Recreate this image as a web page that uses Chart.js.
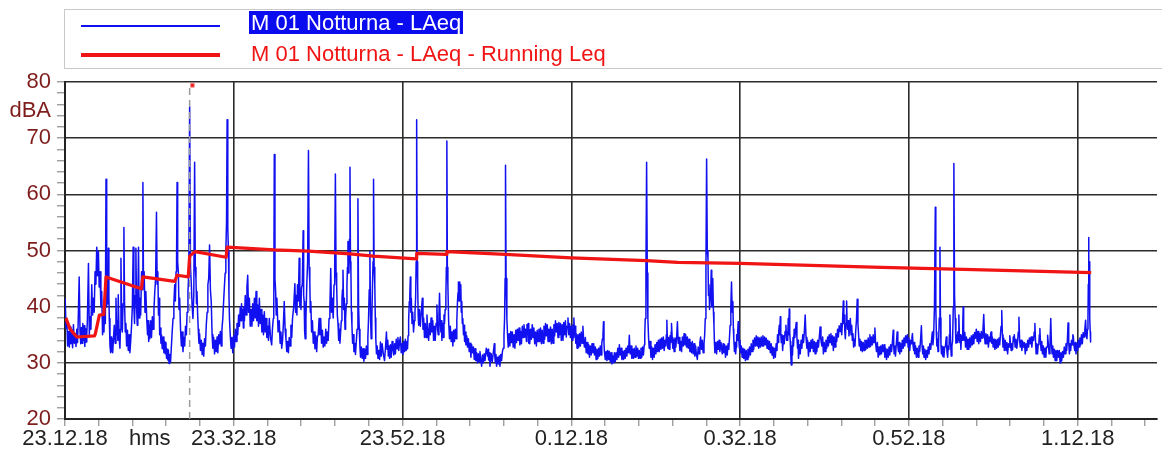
<!DOCTYPE html>
<html>
<head>
<meta charset="utf-8">
<script src="https://cdn.jsdelivr.net/npm/chart.js@4/dist/chart.umd.min.js"></script>
<style>
body{margin:0;background:#fff;font-family:"Liberation Sans",Arial,sans-serif;}
#wrap{position:relative;width:1162px;height:457px;overflow:hidden;}
#legend{position:absolute;left:64px;top:9px;width:1110px;height:60px;border:1px solid #c9c9c9;box-sizing:border-box;}
.swatch{position:absolute;left:16px;width:139px;}
.txt{position:absolute;left:184px;font-size:22px;white-space:nowrap;line-height:23px;padding:0 2px;}
</style>
</head>
<body>
<div id="wrap">
<canvas id="grafico" width="1162" height="457"></canvas>
<div id="legend"></div>
</div>
<script>
// x = minutes since 23.12.18, y = dBA
var tickMinutes = [0, 20, 40, 60, 80, 100, 120];
var tickLabels = ['23.12.18', '23.32.18', '23.52.18', '0.12.18', '0.32.18', '0.52.18', '1.12.18'];
var hmsMinute = 10.05;
var dbaValue = 74.8;
var cursorMinute = 14.77;
var markerPoint = [15.1, 79.4];

var seriesNames = ['M 01 Notturna - LAeq', 'M 01 Notturna - LAeq - Running Leq'];

var laeqSeries = [
[0.02,41.5],[0.12,36.2],[0.22,37.9],[0.31,33.0],[0.41,35.6],[0.51,32.8],[0.61,36.4],[0.7,33.4],[0.8,35.9],[0.9,32.7],[1.0,36.8],[1.1,33.5],[1.2,35.2],[1.3,32.9],[1.4,36.0],[1.48,33.6],[1.55,36.5],[1.68,45.3],[1.78,35.5],[1.87,33.4],[1.95,36.3],[2.03,33.5],[2.11,37.0],[2.19,34.0],[2.27,36.6],[2.35,32.9],[2.43,36.1],[2.5,33.7],[2.58,35.0],[2.65,37.5],[2.78,47.7],[2.88,35.0],[2.97,38.2],[3.07,36.0],[3.17,43.9],[3.27,38.5],[3.37,41.5],[3.46,39.0],[3.56,46.2],[3.66,44.0],[3.76,50.6],[3.86,45.5],[3.96,49.8],[4.05,43.5],[4.15,46.2],[4.25,40.0],[4.35,42.7],[4.45,35.0],[4.55,38.2],[4.62,35.5],[4.7,40.9],[4.78,37.0],[4.86,62.7],[4.94,40.0],[5.02,46.2],[5.08,40.5],[5.14,50.4],[5.2,42.0],[5.25,37.9],[5.33,33.0],[5.41,31.8],[5.47,34.6],[5.53,32.0],[5.59,34.2],[5.65,31.8],[5.75,34.5],[5.84,36.7],[5.94,33.5],[6.04,41.5],[6.12,35.0],[6.2,37.5],[6.26,34.0],[6.31,42.1],[6.41,34.5],[6.51,32.6],[6.57,36.0],[6.63,48.6],[6.71,38.5],[6.79,35.5],[6.88,40.5],[6.98,54.1],[7.06,40.5],[7.14,35.5],[7.22,37.0],[7.3,33.0],[7.4,35.8],[7.5,32.2],[7.6,35.0],[7.69,31.8],[7.79,34.0],[7.89,36.7],[7.98,40.0],[8.08,50.6],[8.16,40.0],[8.24,37.0],[8.32,42.0],[8.4,50.4],[8.48,40.0],[8.56,36.7],[8.63,41.0],[8.71,50.6],[8.79,38.0],[8.87,41.5],[8.97,38.5],[9.07,46.2],[9.15,43.0],[9.23,62.1],[9.3,44.0],[9.38,46.2],[9.48,39.0],[9.58,42.7],[9.68,38.0],[9.78,35.0],[9.85,37.5],[9.92,33.8],[9.98,36.8],[10.05,34.3],[10.15,37.5],[10.25,34.5],[10.35,38.2],[10.44,36.0],[10.54,39.5],[10.64,42.7],[10.74,45.0],[10.84,56.8],[10.92,44.0],[11.0,46.2],[11.08,38.5],[11.15,41.5],[11.22,35.0],[11.3,36.2],[11.37,33.5],[11.43,35.0],[11.52,32.5],[11.62,34.6],[11.72,31.8],[11.82,33.8],[11.89,31.6],[11.96,33.6],[12.03,30.8],[12.1,32.4],[12.18,30.5],[12.25,32.3],[12.33,29.9],[12.41,31.5],[12.51,30.2],[12.61,33.0],[12.7,35.5],[12.8,37.9],[12.9,40.5],[13.0,43.9],[13.08,41.0],[13.16,46.2],[13.22,48.0],[13.28,62.1],[13.35,48.0],[13.43,46.2],[13.51,39.5],[13.59,41.5],[13.69,36.0],[13.79,33.0],[13.88,35.5],[13.98,32.0],[14.08,34.5],[14.18,33.0],[14.28,36.5],[14.38,35.0],[14.47,39.0],[14.57,42.7],[14.67,46.0],[14.77,75.6],[14.87,47.0],[14.97,43.9],[15.07,40.0],[15.16,37.9],[15.26,42.0],[15.36,65.7],[15.44,47.0],[15.52,45],[15.58,40.5],[15.64,42.7],[15.72,38.5],[15.79,36.0],[15.87,33.5],[15.95,35.2],[16.05,32.2],[16.15,34.0],[16.25,31.5],[16.34,33.5],[16.44,31.2],[16.54,34.3],[16.64,33.0],[16.74,36.7],[16.84,39.0],[16.93,43.9],[17.03,45.0],[17.13,51],[17.23,43.0],[17.33,40.9],[17.43,35.0],[17.52,32.6],[17.62,34.5],[17.72,31.6],[17.82,34.0],[17.92,32.0],[18.02,34.6],[18.11,31.8],[18.21,35.0],[18.31,33.4],[18.41,35.6],[18.51,33.0],[18.6,36.0],[18.7,37.9],[18.8,41.0],[18.9,43.9],[18.98,46.0],[19.06,49.8],[19.14,55.0],[19.21,73.3],[19.29,54.0],[19.37,49.8],[19.43,42.0],[19.49,37.9],[19.58,35.0],[19.68,32.6],[19.78,34.5],[19.88,31.8],[19.98,34.8],[20.08,32.8],[20.18,36.0],[20.28,33.8],[20.38,37.0],[20.47,35.0],[20.57,38.5],[20.67,36.5],[20.77,40.0],[20.86,37.5],[20.92,40.5],[20.98,38.0],[21.06,39.5],[21.14,36.2],[21.2,40.0],[21.26,37.5],[21.36,42.0],[21.46,38.5],[21.56,43.5],[21.65,45.6],[21.75,39.0],[21.85,41.5],[21.95,36.5],[22.05,39.5],[22.15,36.5],[22.24,40.5],[22.34,37.5],[22.44,41.5],[22.54,38.0],[22.64,42.7],[22.73,37.5],[22.83,40.3],[22.93,36.5],[23.03,41.5],[23.13,37.0],[23.23,39.5],[23.33,35.5],[23.42,38.5],[23.52,35.0],[23.62,39.1],[23.72,35.5],[23.82,37.9],[23.92,34.5],[24.01,36.5],
[24.11,34.0],[24.21,37.9],[24.35,34.5],[24.49,33.2],[24.58,36.0],[24.68,37.9],[24.74,40.0],[24.8,67.1],[24.88,45.0],[24.96,42.7],[25.03,38.5],[25.11,41.5],[25.25,35.5],[25.39,37.5],[25.49,33.5],[25.59,35.5],[25.68,32.6],[25.78,34.0],[25.88,37.0],[25.98,40.9],[26.08,36.0],[26.18,34.3],[26.28,32.0],[26.37,33.8],[26.47,31.8],[26.57,34.5],[26.67,33.0],[26.77,36.7],[26.87,34.5],[26.96,37.9],[27.1,40.0],[27.24,44.1],[27.32,39.0],[27.4,42.0],[27.48,38.5],[27.55,43.9],[27.65,41.0],[27.75,48.6],[27.83,40.0],[27.91,42.5],[27.96,39.5],[28.02,43.3],[28.12,44.0],[28.22,53.5],[28.28,42.0],[28.34,40.9],[28.4,35.5],[28.46,34.3],[28.55,38.0],[28.65,43.9],[28.75,48.0],[28.85,67.8],[28.93,47.0],[29.01,44.4],[29.07,39.0],[29.13,40.9],[29.22,35.5],[29.32,37.5],[29.42,33.5],[29.52,35.5],[29.62,32.5],[29.72,34.8],[29.82,32.0],[29.91,34.6],[30.01,35.0],[30.11,37.9],[30.2,35.0],[30.3,37.9],[30.4,33.5],[30.5,35.8],[30.6,32.8],[30.7,34.6],[30.8,33.0],[30.9,36.0],[31.0,33.5],[31.09,35.5],[31.19,34.0],[31.29,37.9],[31.39,40.0],[31.49,46.8],[31.58,39.0],[31.68,41.5],[31.78,38.0],[31.88,43.9],[31.96,47.0],[32.04,63.6],[32.12,46.0],[32.19,43.9],[32.27,38.5],[32.35,37.0],[32.43,34.0],[32.51,36.0],[32.58,33.5],[32.66,35.5],[32.74,37.5],[32.82,41.5],[32.88,43.0],[32.94,46.5],[33.02,39.5],[33.1,41.5],[33.18,36.0],[33.25,37.9],[33.33,40.5],[33.41,43.9],[33.47,47.0],[33.53,51.6],[33.59,46.0],[33.65,48.6],[33.71,52.0],[33.77,64.8],[33.83,48.0],[33.88,46.2],[33.94,39.0],[34.0,36.7],[34.08,33.5],[34.16,35.0],[34.24,32.0],[34.32,33.5],[34.42,31.5],[34.51,33.6],[34.61,36.0],[34.71,59.2],[34.79,40.0],[34.87,36.0],[34.95,32.8],[35.02,31.0],[35.12,32.8],[35.22,30.8],[35.32,32.5],[35.42,30.3],[35.52,32.4],[35.61,30.8],[35.71,33.0],[35.81,31.5],[35.89,34.5],[35.97,37.9],[36.05,43.0],[36.13,49.8],[36.2,38.5],[36.28,34.3],[36.36,38.0],[36.44,43.9],[36.5,48.0],[36.56,62.7],[36.63,47.0],[36.71,43.9],[36.77,38.0],[36.83,34.3],[36.91,31.6],[36.99,33.0],[37.09,30.8],[37.19,32.2],[37.28,30.6],[37.38,33.7],[37.48,31.2],[37.58,33.4],[37.72,31.6],[37.86,30.4],[37.97,32.5],[38.09,35.5],[38.17,32.4],[38.25,34.0],[38.31,31.2],[38.37,33.0],[38.47,30.8],[38.56,33.2],[38.66,31.0],[38.76,33.8],[38.86,32.5],[38.96,31.4],[39.06,33.4],[39.15,31.6],[39.25,34.2],[39.35,32.5],[39.45,34.5],[39.55,32.2],[39.65,33.8],[39.74,34.6],[39.84,31.8],[39.94,33.4],[40.04,31.5],[40.14,33.8],[40.24,32.0],[40.33,34.2],[40.43,32.2],[40.53,33.8],[40.59,32.5],[40.65,34.8],[40.72,37.5],[40.8,40.9],[40.86,42.0],[40.92,45.3],[40.98,39.0],[41.04,41.5],[41.12,37.0],[41.2,39.0],[41.3,35.5],[41.4,37.5],[41.47,39.0],[41.55,41.5],[41.61,48.0],[41.67,73.3],[41.73,48.0],[41.79,43.9],[41.85,38.5],[41.91,36.7],[42.0,39.5],[42.1,36.5],[42.22,39.0],[42.34,41.5],[42.42,36.0],[42.5,38.0],[42.6,34.5],[42.69,37.0],[42.79,34.5],[42.89,38.5],[42.99,35.5],[43.09,34.0],[43.19,37.0],[43.28,35.0],[43.38,38.0],[43.48,35.5],[43.58,37.5],[43.68,34.0],[43.78,36.5],[43.87,34.0],[43.97,37.0],[44.07,40.3],[44.15,36.0],[44.23,35.0],[44.31,38.5],[44.38,42.4],[44.46,37.5],[44.54,35.5],[44.6,37.5],[44.66,34.0],[44.76,37.0],[44.85,34.5],[44.91,38.5],[44.97,37.0],[45.05,39.5],[45.13,41.5],[45.19,47.0],[45.25,69.5],[45.31,47.0],[45.37,43.9],[45.46,37.5],[45.56,34.3],[45.66,36.5],[45.76,33.8],[45.86,35.5],[45.96,33.0],[46.06,35.8],[46.15,33.8],[46.25,36.0],[46.35,34.3],[46.43,37.5],[46.51,40.9],[46.57,42.5],[46.62,44.4],[46.7,41.0],[46.78,44.4],[46.84,41.5],[46.9,43.9],[46.96,39.0],[47.02,40.9],[47.08,37.0],[47.14,37.9],[47.22,35.0],[47.29,36.7],[47.35,33.8],[47.41,35.5],[47.51,33.2],[47.61,34.8],[47.7,32.8],
[47.8,34.3],[47.9,32.0],[48.0,33.5],[48.1,31.0],[48.19,33.2],[48.3,31.8],[48.4,32.8],[48.5,30.6],[48.59,32.5],[48.68,30.4],[48.78,31.8],[48.88,30.0],[48.98,31.6],[49.08,30.2],[49.17,32.0],[49.27,30.6],[49.37,29.4],[49.47,31.4],[49.57,30.0],[49.67,31.6],[49.77,30.4],[49.92,32.6],[50.08,31.2],[50.14,32.4],[50.2,30.5],[50.28,31.8],[50.36,29.4],[50.5,31.6],[50.63,30.2],[50.75,31.8],[50.87,33.4],[50.94,31.0],[51.0,30.0],[51.07,31.5],[51.14,29.4],[51.24,31.0],[51.34,29.8],[51.44,31.2],[51.54,29.4],[51.64,31.5],[51.73,30.4],[51.83,32.0],[51.93,32.6],[52.02,35.0],[52.09,37.9],[52.15,45.0],[52.2,65.2],[52.27,45.0],[52.36,37.9],[52.44,35.0],[52.52,32.8],[52.62,35.2],[52.72,33.0],[52.82,35.6],[52.91,33.6],[53.01,35.5],[53.11,32.8],[53.21,35.0],[53.31,32.6],[53.41,35.8],[53.5,33.6],[53.6,36.0],[53.7,34.0],[53.8,36.2],[53.9,33.2],[54.0,35.6],[54.09,33.4],[54.19,36.5],[54.29,34.5],[54.39,36.8],[54.49,34.6],[54.58,36.0],[54.68,33.8],[54.74,36.8],[54.8,35.0],[54.88,37.0],[54.96,33.5],[55.02,35.8],[55.07,33.4],[55.17,36.0],[55.27,34.2],[55.37,36.8],[55.47,34.5],[55.56,36.2],[55.66,33.4],[55.76,35.5],[55.86,33.0],[55.96,35.8],[56.06,33.8],[56.16,36.0],[56.25,33.8],[56.35,36.2],[56.45,33.4],[56.55,35.8],[56.65,33.5],[56.75,36.5],[56.84,34.2],[56.94,37.0],[57.04,34.8],[57.14,36.8],[57.24,33.8],[57.34,36.0],[57.43,33.8],[57.53,36.4],[57.63,33.4],[57.73,36.0],[57.83,33.5],[57.93,36.8],[58.02,34.8],[58.12,37.5],[58.22,35.5],[58.32,37.0],[58.42,34.5],[58.52,37.2],[58.61,35.0],[58.71,37.0],[58.81,34.0],[58.91,36.8],[59.01,34.0],[59.1,37.2],[59.2,35.0],[59.3,37.5],[59.4,34.6],[59.5,36.5],[59.6,38.0],[59.7,35.0],[59.79,37.0],[59.89,34.5],[59.99,36.5],[60.09,34.0],[60.19,36.8],[60.25,34.5],[60.3,38.0],[60.38,35.0],[60.46,36.5],[60.52,33.5],[60.58,35.2],[60.68,32.6],[60.78,35.0],[60.88,32.8],[60.97,35.2],[61.07,33.0],[61.17,35.5],[61.27,33.5],[61.37,36.5],[61.47,33.8],[61.56,32.8],[61.66,34.5],[61.76,31.8],[61.86,33.6],[61.96,31.6],[62.06,33.2],[62.15,31.0],[62.25,33.0],[62.35,31.4],[62.45,33.4],[62.55,31.8],[62.65,33.4],[62.74,31.4],[62.84,32.8],[62.94,30.6],[63.04,32.4],[63.14,30.8],[63.24,32.6],[63.33,31.2],[63.43,33.0],[63.53,31.4],[63.61,33.5],[63.69,34.3],[63.75,35.0],[63.81,37.3],[63.87,33.5],[63.92,32.0],[64.02,30.6],[64.12,32.0],[64.22,30.4],[64.32,32.2],[64.42,30.6],[64.51,32.0],[64.61,30.2],[64.71,31.8],[64.81,29.8],[64.91,31.2],[65.01,30.0],[65.1,31.8],[65.2,30.2],[65.3,31.8],[65.4,30.6],[65.5,32.6],[65.6,31.0],[65.69,33.2],[65.79,31.4],[65.89,32.6],[65.99,30.6],[66.09,32.0],[66.19,30.6],[66.28,32.2],[66.38,30.8],[66.48,32.6],[66.58,31.2],[66.68,33.0],[66.78,31.8],[66.87,34.9],[66.97,31.6],[67.07,33.0],[67.17,30.8],[67.27,32.4],[67.37,30.8],[67.46,32.6],[67.56,31.0],[67.66,33.0],[67.76,31.2],[67.86,32.6],[67.96,30.8],[68.05,32.2],[68.15,30.8],[68.25,32.6],[68.35,31.0],[68.44,32.8],[68.54,31.4],[68.64,33.2],[68.7,35.0],[68.76,37.9],[68.84,46.0],[68.92,65.7],[69.0,46.0],[69.07,37.9],[69.15,34.5],[69.23,32.6],[69.33,33.8],[69.43,31.0],[69.53,32.8],[69.62,30.6],[69.72,32.6],[69.82,31.0],[69.92,33.2],[70.02,31.6],[70.12,33.6],[70.21,32.0],[70.31,34.0],[70.41,32.0],[70.51,34.2],[70.61,32.4],[70.71,34.4],[70.8,32.6],[70.9,34.6],[71.0,32.2],[71.1,34.0],[71.2,33.0],[71.26,35.0],[71.32,37.6],[71.38,34.0],[71.43,32.6],[71.51,34.5],[71.59,32.4],[71.69,34.8],[71.79,33.6],[71.83,35.5],[71.87,37],[71.95,34.5],[72.02,32.6],[72.1,34.2],[72.18,32.0],[72.28,34.4],[72.38,32.8],[72.48,34.6],[72.57,37.3],[72.66,33.5],
[72.76,34.5],[72.86,32.2],[72.96,33.8],[73.06,32.0],[73.16,34.6],[73.26,33.0],[73.36,35.2],[73.46,33.2],[73.55,35.0],[73.65,32.8],[73.75,34.6],[73.85,32.6],[73.95,34.2],[74.05,32.0],[74.14,33.6],[74.24,31.8],[74.34,33.8],[74.44,31.6],[74.54,33.4],[74.64,31.2],[74.73,33.0],[74.83,31.4],[74.93,30.6],[75.03,32.8],[75.13,31.6],[75.23,33.6],[75.32,34.6],[75.42,32.4],[75.52,34.0],[75.62,31.8],[75.72,33.4],[75.8,35.0],[75.87,37.9],[75.95,47.0],[76.03,66.3],[76.11,50.0],[76.19,48.6],[76.25,42.0],[76.31,43.9],[76.38,39.5],[76.46,41.5],[76.52,43.0],[76.58,46.5],[76.64,40.0],[76.7,42.7],[76.74,40.0],[76.78,45],[76.84,39.0],[76.9,36.7],[76.96,33.5],[77.01,31.8],[77.11,33.6],[77.21,31.6],[77.31,33.8],[77.41,32.4],[77.5,34.0],[77.6,32.0],[77.74,33.6],[77.88,31.6],[77.98,33.4],[78.07,31.8],[78.17,33.2],[78.27,31.0],[78.37,33.0],[78.47,31.4],[78.57,33.4],[78.66,32.4],[78.74,34.5],[78.82,36.7],[78.9,40.0],[78.98,44.4],[79.06,39.0],[79.14,40.9],[79.2,36.0],[79.25,34.3],[79.33,32.0],[79.41,33.6],[79.47,31.6],[79.53,32.8],[79.59,35.0],[79.65,34.0],[79.71,35.5],[79.77,37.3],[79.85,34.0],[79.92,32.6],[79.98,34.0],[80.04,31.8],[80.14,33.0],[80.24,31.0],[80.34,32.6],[80.43,30.8],[80.53,32.4],[80.63,30.4],[80.73,32.2],[80.83,30.6],[80.93,32.4],[81.02,31.0],[81.12,32.8],[81.22,31.4],[81.32,33.4],[81.42,32.0],[81.52,34.0],[81.61,32.4],[81.71,34.4],[81.81,33.0],[81.91,34.8],[82.01,33.0],[82.11,34.6],[82.2,32.6],[82.3,34.4],[82.4,32.8],[82.5,34.6],[82.6,33.0],[82.7,34.8],[82.79,33.0],[82.89,34.6],[82.99,33.2],[83.09,34.4],[83.19,32.6],[83.29,34.0],[83.38,32.4],[83.48,33.8],[83.58,31.8],[83.68,33.4],[83.78,31.4],[83.88,32.8],[83.97,30.8],[84.07,32.6],[84.17,31.0],[84.27,33.4],[84.37,32.2],[84.43,35.0],[84.49,33.6],[84.57,35.5],[84.64,36.7],[84.7,35.0],[84.76,38.2],[84.82,35.0],[84.88,33.6],[84.96,35.0],[85.04,32.2],[85.14,34.8],[85.23,33.4],[85.33,35.6],[85.43,36.7],[85.51,34.0],[85.59,35.5],[85.64,34.0],[85.7,37.9],[85.76,35.0],[85.82,39.6],[85.88,35.5],[85.94,33.8],[86.0,31.5],[86.06,29.6],[86.14,33.0],[86.21,31.4],[86.27,34.5],[86.33,33.0],[86.41,36.0],[86.49,34.5],[86.57,36.0],[86.65,37.2],[86.73,34.5],[86.81,32.6],[86.86,34.0],[86.92,30.8],[87.02,33.2],[87.12,31.6],[87.22,34.0],[87.32,32.6],[87.42,35.0],[87.51,33.6],[87.61,35.5],[87.71,38.5],[87.81,34.5],[87.91,32.6],[88.0,34.0],[88.1,31.2],[88.2,33.6],[88.3,32.0],[88.4,34.0],[88.5,32.6],[88.6,34.2],[88.69,32.0],[88.79,33.8],[88.89,31.6],[88.99,33.6],[89.09,32.0],[89.19,34.0],[89.28,32.8],[89.38,34.5],[89.48,36.4],[89.58,34.0],[89.68,33.0],[89.78,34.6],[89.87,31.6],[89.97,33.6],[90.07,32.0],[90.17,34.0],[90.27,32.6],[90.37,34.6],[90.46,33.0],[90.56,35.0],[90.66,33.6],[90.76,35.2],[90.86,33.2],[90.96,34.8],[91.05,32.2],[91.15,34.6],[91.25,32.8],[91.35,35.2],[91.45,33.8],[91.55,36.0],[91.64,34.6],[91.74,36.6],[91.84,35.6],[91.94,37.0],[92.04,35.0],[92.14,37.5],[92.23,41],[92.29,37.0],[92.35,38.5],[92.41,35.5],[92.47,34.3],[92.55,37.0],[92.62,41],[92.68,37.0],[92.74,36.0],[92.82,37.5],[92.9,34.8],[92.98,36.5],[93.06,37.9],[93.14,35.0],[93.22,36.7],[93.3,34.0],[93.37,35.2],[93.45,32.8],[93.53,34.2],[93.61,33.0],[93.69,35.5],[93.78,37.5],[93.88,41.3],[93.96,37.0],[94.04,35.0],[94.12,33.0],[94.2,34.2],[94.3,32.2],[94.39,33.8],[94.49,32.0],[94.59,33.6],[94.69,32.2],[94.79,34.0],[94.89,32.4],[94.98,34.0],[95.08,32.6],[95.18,34.4],[95.28,32.8],[95.38,35.0],[95.48,33.0],[95.57,34.6],[95.67,33.2],[95.77,35.0],[95.87,33.6],[95.97,36.2],[96.06,33.4],[96.16,32.0],[96.26,33.6],[96.36,31.0],[96.46,32.8],[96.56,31.4],[96.66,33.0],[96.75,31.6],[96.85,33.2],
[96.96,32.0],[97.06,33.2],[97.15,31.0],[97.25,32.6],[97.35,30.6],[97.45,32.4],[97.55,31.0],[97.65,32.8],[97.74,31.4],[97.84,33.2],[97.94,32.0],[98.04,33.6],[98.14,35.8],[98.2,33.0],[98.25,31.6],[98.33,33.0],[98.41,31.2],[98.51,33.4],[98.61,35.5],[98.69,33.0],[98.77,32.0],[98.85,33.6],[98.92,31.6],[99.02,33.4],[99.12,32.0],[99.22,34.0],[99.32,32.6],[99.42,34.4],[99.51,33.0],[99.61,34.8],[99.71,33.6],[99.81,35.0],[99.91,32.8],[100.0,34.4],[100.1,32.2],[100.2,34.0],[100.3,33.4],[100.36,34.5],[100.42,35.2],[100.5,33.0],[100.57,32.2],[100.63,33.6],[100.69,31.6],[100.79,33.0],[100.89,31.0],[100.99,32.6],[101.09,31.0],[101.19,33.0],[101.28,32.0],[101.38,34.0],[101.48,36.6],[101.56,33.0],[101.64,31.6],[101.72,33.0],[101.79,31.0],[101.89,32.4],[101.99,30.6],[102.09,32.2],[102.19,31.0],[102.29,32.8],[102.38,31.6],[102.48,33.4],[102.58,32.4],[102.68,34.0],[102.78,35.5],[102.85,33.2],[102.93,34.8],[103.03,40.0],[103.13,57.7],[103.19,40.0],[103.25,35.5],[103.31,33.0],[103.37,34.3],[103.45,32.0],[103.52,33.5],[103.6,38.0],[103.68,50.6],[103.74,38.0],[103.8,33.2],[103.86,31.6],[103.92,33.0],[104.0,31.2],[104.07,32.8],[104.15,31.0],[104.23,32.6],[104.33,33.0],[104.43,34.6],[104.51,32.0],[104.59,31.0],[104.67,33.0],[104.74,32.4],[104.8,35.0],[104.86,38.5],[104.94,33.5],[105.02,31.2],[105.1,33.0],[105.18,34.0],[105.26,40.0],[105.33,65.5],[105.41,42.0],[105.49,37.9],[105.57,33.5],[105.65,35.0],[105.72,33.6],[105.8,35.5],[105.86,34.0],[105.92,38.5],[105.98,35.0],[106.04,33.6],[106.1,35.0],[106.16,32.4],[106.24,34.8],[106.32,34.0],[106.38,36.5],[106.43,40],[106.49,36.0],[106.55,34.0],[106.63,35.4],[106.71,32.8],[106.81,34.6],[106.91,32.4],[107.0,34.2],[107.1,32.4],[107.2,34.4],[107.3,32.8],[107.4,34.8],[107.5,33.2],[107.6,35.0],[107.69,33.4],[107.79,35.4],[107.89,34.4],[107.99,36.0],[108.09,33.8],[108.19,35.6],[108.28,33.4],[108.38,35.2],[108.48,33.8],[108.58,35.6],[108.68,34.4],[108.78,36.0],[108.87,38.6],[108.95,35.0],[109.03,33.4],[109.13,35.2],[109.23,33.4],[109.33,35.0],[109.42,32.8],[109.52,34.6],[109.62,33.8],[109.68,35.0],[109.74,35.5],[109.82,33.5],[109.89,34.6],[109.99,32.8],[110.09,34.2],[110.19,32.4],[110.29,34.0],[110.39,32.6],[110.48,34.2],[110.58,32.8],[110.68,34.4],[110.76,33.2],[110.84,34.8],[110.92,36.5],[111.0,39.3],[111.08,35.0],[111.15,32.8],[111.23,34.4],[111.31,32.2],[111.41,34.0],[111.51,32.2],[111.61,33.6],[111.7,31.6],[111.8,33.4],[111.9,32.8],[111.96,34.8],[112.02,33.8],[112.12,32.2],[112.21,33.4],[112.29,32.4],[112.37,34.6],[112.43,33.8],[112.49,35.0],[112.59,32.8],[112.69,34.2],[112.79,32.6],[112.88,33.8],[112.96,35.5],[113.04,38.1],[113.12,34.0],[113.2,32.8],[113.3,34.0],[113.39,32.2],[113.49,33.8],[113.59,32.8],[113.69,33.6],[113.79,31.6],[113.89,33.4],[113.98,32.2],[114.08,34.0],[114.18,32.8],[114.28,34.4],[114.38,33.4],[114.48,34.6],[114.57,32.8],[114.67,34.6],[114.77,34.0],[114.85,35.5],[114.93,37],[115.0,34.0],[115.08,31.6],[115.16,33.4],[115.24,31.6],[115.32,33.2],[115.4,33.4],[115.46,35.0],[115.52,36.1],[115.6,33.5],[115.67,32.2],[115.75,33.8],[115.83,31.6],[115.93,33.0],[116.03,31.0],[116.13,32.6],[116.23,31.0],[116.3,32.8],[116.38,32.8],[116.42,34.0],[116.46,34.9],[116.54,33.0],[116.62,31.6],[116.72,33.5],[116.81,37.9],[116.89,33.5],[116.97,31.6],[117.05,33.0],[117.13,31.0],[117.23,32.4],[117.33,30.4],[117.43,32.2],[117.52,30.4],[117.62,32.2],[117.72,31.0],[117.82,32.2],[117.92,30.0],[118.02,31.8],[118.11,30.4],[118.21,32.0],[118.31,31.0],[118.41,32.8],[118.51,31.6],[118.61,33.4],[118.7,32.2],[118.78,34.0],[118.86,37.1],[118.94,33.6],[119.02,31.6],[119.1,33.4],[119.17,32.2],[119.27,34.0],[119.37,33.2],[119.43,35.0],[119.49,34.6],[119.57,33.0],[119.65,32.2],[119.73,33.6],[119.8,31.6],[119.9,33.4],[120.0,32.2],[120.08,34.0],[120.16,32.8],[120.26,34.4],[120.35,33.2],[120.45,35.0],[120.55,33.4],[120.65,35.4],[120.75,34.6],[120.85,36.0],[120.94,37.6],[121.02,35.0],[121.1,34.3],[121.16,36.0],[121.22,37.9],[121.26,44.0],[121.3,52.3],[121.33,47.0],[121.37,48],[121.41,42.0],[121.45,37.9],[121.49,35.5],[121.53,33.7]
];

var runningLeq = [
[0.1,38],[0.6,36],[1.4,34.6],[3.5,34.8],[3.6,35.2],[4.07,38.5],[4.6,38.6],[4.86,45.3],[9.05,43.2],[9.23,45.3],[13.0,44.5],[13.28,45.6],[14.6,45.3],[14.77,49.0],[15.4,49.8],[19.1,48.8],[19.21,50.6],[24.8,50.1],[28.85,49.9],[33.77,49.4],[36.56,49.0],[41.6,48.5],[41.67,49.5],[45.2,49.3],[45.25,49.8],[52.2,49.3],[60,48.7],[68.9,48.2],[72.6,47.9],[80,47.7],[96.75,47.0],[105.3,46.7],[121.6,46.05]
];

var azul = '#1010f0';
var rojo = '#f01414';

function aPuntos(lista){
    return lista.map(function(p){ return {x: p[0], y: p[1]}; });
}

Chart.defaults.font.family = '"Liberation Sans", Arial, sans-serif';

var ctx = document.getElementById('grafico').getContext('2d');
var grafico = new Chart(ctx, {
    type: 'line',
    data: {
        datasets: [{
            label: 'marker',
            data: [{x: markerPoint[0], y: markerPoint[1]}],
            showLine: false,
            pointStyle: 'rect',
            pointRadius: 2.5,
            pointBackgroundColor: rojo,
            pointBorderColor: '#f08080',
            pointBorderWidth: 1,
            order: 0
        }, {
            label: seriesNames[1],
            data: aPuntos(runningLeq),
            borderColor: rojo,
            borderWidth: 3.2,
            pointRadius: 0,
            tension: 0,
            borderJoinStyle: 'round',
            order: 1
        }, {
            label: 'cursor',
            data: [{x: cursorMinute, y: 20}, {x: cursorMinute, y: 80}],
            borderColor: '#9a9a9a',
            borderWidth: 1.5,
            borderDash: [7, 5],
            pointRadius: 0,
            order: 2
        }, {
            label: seriesNames[0],
            data: aPuntos(laeqSeries),
            borderColor: azul,
            borderWidth: 1.5,
            pointRadius: 0,
            tension: 0,
            borderJoinStyle: 'round',
            order: 3
        }]
    },
    options: {
        responsive: false,
        devicePixelRatio: 1,
        animation: false,
        events: [],
        layout: { padding: { top: 82, left: 0, right: 0, bottom: 0 } },
        plugins: { legend: { display: false }, tooltip: { enabled: false } },
        scales: {
            x: {
                type: 'linear',
                min: 0,
                max: 129.4,
                border: { color: '#222', width: 2 },
                grid: {
                    color: function(c){ return c.tick && tickMinutes.indexOf(c.tick.value) >= 0 ? '#2b2b2b' : 'rgba(0,0,0,0)'; },
                    tickColor: function(c){ return c.tick && c.tick.value === hmsMinute ? 'rgba(0,0,0,0)' : '#777'; },
                    lineWidth: 1.6,
                    tickWidth: 1,
                    tickLength: 7
                },
                afterBuildTicks: function(s){
                    var t = [];
                    for (var m = 0; m <= 128; m += 4) t.push({value: m});
                    t.push({value: hmsMinute});
                    t.sort(function(a, b){ return a.value - b.value; });
                    s.ticks = t;
                },
                afterFit: function(s){ s.height = 38; },
                ticks: {
                    autoSkip: false,
                    maxRotation: 0,
                    padding: 0,
                    color: '#222',
                    font: { size: 22 },
                    callback: function(v){
                        if (v === hmsMinute) return 'hms';
                        var i = tickMinutes.indexOf(v);
                        return i >= 0 ? tickLabels[i] : '';
                    }
                }
            },
            y: {
                min: 20,
                max: 80,
                border: { color: '#222', width: 2 },
                grid: {
                    color: function(c){ return c.tick && c.tick.value % 10 === 0 ? '#2b2b2b' : 'rgba(0,0,0,0)'; },
                    tickColor: function(c){ return c.tick && c.tick.value === dbaValue ? 'rgba(0,0,0,0)' : '#777'; },
                    lineWidth: 1.6,
                    tickWidth: 1,
                    tickLength: 8
                },
                afterBuildTicks: function(s){
                    var t = [];
                    for (var v = 20; v <= 80; v += 2) t.push({value: v});
                    t.push({value: dbaValue});
                    t.sort(function(a, b){ return a.value - b.value; });
                    s.ticks = t;
                },
                afterFit: function(s){ s.width = 65; },
                ticks: {
                    autoSkip: false,
                    padding: 6,
                    color: '#7f1d1d',
                    font: { size: 22 },
                    callback: function(v){
                        if (v === dbaValue) return 'dBA';
                        return v % 10 === 0 ? String(v) : '';
                    }
                }
            }
        }
    }
});

// leyenda hecha a mano (la primera serie va resaltada)
var leyenda = document.getElementById('legend');
[{i: 3, top: 15, h: 1.5, txtTop: 1, sel: true}, {i: 1, top: 43, h: 3.5, txtTop: 32, sel: false}].forEach(function(it){
    var ds = grafico.data.datasets[it.i];
    var sw = document.createElement('div');
    sw.className = 'swatch';
    sw.style.top = it.top + 'px';
    sw.style.height = it.h + 'px';
    sw.style.background = ds.borderColor;
    leyenda.appendChild(sw);
    var tx = document.createElement('div');
    tx.className = 'txt';
    tx.style.top = it.txtTop + 'px';
    tx.textContent = ds.label;
    if (it.sel) { tx.style.background = '#0b0bef'; tx.style.color = '#fff'; }
    else { tx.style.color = ds.borderColor; }
    leyenda.appendChild(tx);
});
</script>
</body>
</html>
